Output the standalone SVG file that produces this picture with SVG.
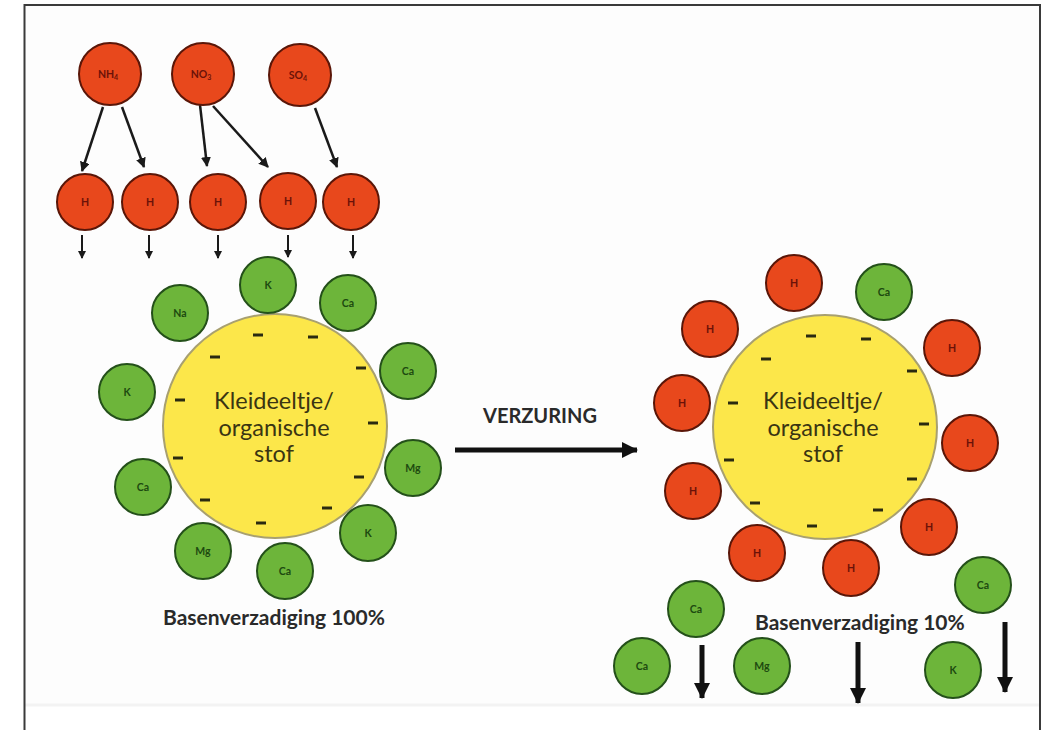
<svg xmlns="http://www.w3.org/2000/svg" width="1044" height="730" viewBox="0 0 1044 730">
<style>
.red{fill:#E8481C;stroke:#5a1608;stroke-width:2}
.grn{fill:#6DB53A;stroke:#24501a;stroke-width:2}
.yel{fill:#FCE74A;stroke:#a8a070;stroke-width:2}
.rt{font-family:Lato,"Liberation Sans",sans-serif;font-weight:bold;font-size:10.5px;fill:#6b1208;text-anchor:middle}
.gt{font-family:Lato,"Liberation Sans",sans-serif;font-weight:bold;font-size:10.5px;fill:#1d4a10;text-anchor:middle}
.big{font-family:Lato,"Liberation Sans",sans-serif;font-size:23.5px;fill:#3a3512;text-anchor:middle}
.lbl{font-family:Lato,"Liberation Sans",sans-serif;font-weight:bold;font-size:21px;fill:#2a2a2a}
.vz{font-family:Lato,"Liberation Sans",sans-serif;font-weight:bold;font-size:20px;fill:#2a2a2a}
.dash{stroke:#2a2a10;stroke-width:3}
.thin{stroke:#1a1a1a;stroke-width:2.5;fill:none}
.small{stroke:#1a1a1a;stroke-width:2;fill:none}
.thick{stroke:#111;stroke-width:5;fill:none}
</style>
<defs>
<marker id="ah" markerUnits="userSpaceOnUse" markerWidth="10" markerHeight="10" refX="9" refY="5" orient="auto"><path d="M0,0 L10,5 L0,10 z" fill="#1a1a1a"/></marker>
<marker id="ahs" markerUnits="userSpaceOnUse" markerWidth="8" markerHeight="8" refX="7" refY="4" orient="auto"><path d="M0,0 L8,4 L0,8 z" fill="#1a1a1a"/></marker>
<marker id="ahb" markerUnits="userSpaceOnUse" markerWidth="16" markerHeight="16" refX="15" refY="8" orient="auto"><path d="M0,0 L16,8 L0,16 z" fill="#111"/></marker>
</defs>
<rect x="0" y="0" width="1044" height="730" fill="#ffffff"/>
<rect x="25" y="6" width="1014" height="698" fill="#fdfdfd"/>
<line x1="25" y1="705" x2="1039" y2="705" stroke="#f3f3f3" stroke-width="3"/>
<path d="M24.5,730 V5 H1040 V730" fill="none" stroke="#3a3a3a" stroke-width="2"/>

<g id="connectors">
<line class="thin" x1="103" y1="107" x2="82" y2="171" marker-end="url(#ah)"/>
<line class="thin" x1="122" y1="107" x2="144" y2="167" marker-end="url(#ah)"/>
<line class="thin" x1="200" y1="105" x2="207" y2="166" marker-end="url(#ah)"/>
<line class="thin" x1="213" y1="106" x2="268" y2="167" marker-end="url(#ah)"/>
<line class="thin" x1="315" y1="108" x2="337" y2="167" marker-end="url(#ah)"/>
<line class="small" x1="82" y1="235" x2="82" y2="258" marker-end="url(#ahs)"/>
<line class="small" x1="149" y1="235" x2="149" y2="258" marker-end="url(#ahs)"/>
<line class="small" x1="218" y1="235" x2="218" y2="258" marker-end="url(#ahs)"/>
<line class="small" x1="288" y1="235" x2="288" y2="257" marker-end="url(#ahs)"/>
<line class="small" x1="353" y1="235" x2="353" y2="258" marker-end="url(#ahs)"/>
<line class="thick" x1="455" y1="450" x2="637" y2="450" marker-end="url(#ahb)"/>
<line class="thick" x1="702" y1="645" x2="702" y2="698" marker-end="url(#ahb)"/>
<line class="thick" x1="858" y1="642" x2="858" y2="703" marker-end="url(#ahb)"/>
<line class="thick" x1="1005" y1="622" x2="1005" y2="692" marker-end="url(#ahb)"/>
</g>

<g id="nh4"><circle class="red" cx="110" cy="74" r="31"/><text class="rt" x="108" y="78">NH<tspan font-size="7" dy="2">4</tspan></text></g>
<g id="no3"><circle class="red" cx="203" cy="74" r="31"/><text class="rt" x="201" y="78">NO<tspan font-size="7" dy="2">3</tspan></text></g>
<g id="so4"><circle class="red" cx="300" cy="75" r="31"/><text class="rt" x="298" y="79">SO<tspan font-size="7" dy="2">4</tspan></text></g>

<g id="h1"><circle class="red" cx="85" cy="202" r="28"/><text class="rt" x="85" y="206">H</text></g>
<g id="h2"><circle class="red" cx="150" cy="202" r="28"/><text class="rt" x="150" y="206">H</text></g>
<g id="h3"><circle class="red" cx="218" cy="202" r="28"/><text class="rt" x="218" y="206">H</text></g>
<g id="h4"><circle class="red" cx="288" cy="201" r="28"/><text class="rt" x="288" y="205">H</text></g>
<g id="h5"><circle class="red" cx="351" cy="202" r="28"/><text class="rt" x="351" y="206">H</text></g>

<g id="particle-left">
<circle class="yel" cx="275" cy="426" r="112"/>
<text class="big" x="274" y="409">Kleideeltje/</text>
<text class="big" x="274" y="436">organische</text>
<text class="big" x="274" y="462">stof</text>
<g class="dash">
<line x1="253" y1="335" x2="263" y2="335"/><line x1="308" y1="337" x2="318" y2="337"/>
<line x1="210" y1="357" x2="220" y2="357"/><line x1="356" y1="368" x2="366" y2="368"/>
<line x1="175" y1="400" x2="185" y2="400"/><line x1="368" y1="423" x2="378" y2="423"/>
<line x1="173" y1="458" x2="183" y2="458"/><line x1="354" y1="477" x2="364" y2="477"/>
<line x1="200" y1="500" x2="210" y2="500"/><line x1="322" y1="508" x2="332" y2="508"/>
<line x1="256" y1="523" x2="266" y2="523"/>
</g>
</g>

<g id="l-na"><circle class="grn" cx="180" cy="313" r="28"/><text class="gt" x="180" y="317">Na</text></g>
<g id="l-k1"><circle class="grn" cx="268" cy="285" r="28"/><text class="gt" x="268" y="289">K</text></g>
<g id="l-ca1"><circle class="grn" cx="348" cy="303" r="28"/><text class="gt" x="348" y="307">Ca</text></g>
<g id="l-ca2"><circle class="grn" cx="408" cy="371" r="28"/><text class="gt" x="408" y="375">Ca</text></g>
<g id="l-k2"><circle class="grn" cx="127" cy="392" r="28"/><text class="gt" x="127" y="396">K</text></g>
<g id="l-mg1"><circle class="grn" cx="413" cy="468" r="28"/><text class="gt" x="413" y="472">Mg</text></g>
<g id="l-ca3"><circle class="grn" cx="143" cy="487" r="28"/><text class="gt" x="143" y="491">Ca</text></g>
<g id="l-k3"><circle class="grn" cx="368" cy="533" r="28"/><text class="gt" x="368" y="537">K</text></g>
<g id="l-mg2"><circle class="grn" cx="203" cy="551" r="28"/><text class="gt" x="203" y="555">Mg</text></g>
<g id="l-ca4"><circle class="grn" cx="285" cy="571" r="28"/><text class="gt" x="285" y="575">Ca</text></g>

<g id="label-left"><text class="lbl" x="163" y="625">Basenverzadiging 100%</text></g>
<g id="label-verzuring"><text class="vz" x="483" y="423">VERZURING</text></g>

<g id="particle-right">
<circle class="yel" cx="825" cy="427" r="112"/>
<text class="big" x="823" y="409">Kleideeltje/</text>
<text class="big" x="823" y="436">organische</text>
<text class="big" x="823" y="462">stof</text>
<g class="dash">
<line x1="806" y1="336" x2="816" y2="336"/><line x1="861" y1="339" x2="871" y2="339"/>
<line x1="761" y1="359" x2="771" y2="359"/><line x1="907" y1="371" x2="917" y2="371"/>
<line x1="728" y1="403" x2="738" y2="403"/><line x1="919" y1="424" x2="929" y2="424"/>
<line x1="724" y1="460" x2="734" y2="460"/><line x1="907" y1="479" x2="917" y2="479"/>
<line x1="750" y1="503" x2="760" y2="503"/><line x1="873" y1="510" x2="883" y2="510"/>
<line x1="807" y1="526" x2="817" y2="526"/>
</g>
</g>

<g id="r-h1"><circle class="red" cx="794" cy="283" r="28"/><text class="rt" x="794" y="287">H</text></g>
<g id="r-ca1"><circle class="grn" cx="884" cy="292" r="28"/><text class="gt" x="884" y="296">Ca</text></g>
<g id="r-h2"><circle class="red" cx="710" cy="329" r="28"/><text class="rt" x="710" y="333">H</text></g>
<g id="r-h3"><circle class="red" cx="952" cy="348" r="28"/><text class="rt" x="952" y="352">H</text></g>
<g id="r-h4"><circle class="red" cx="682" cy="403" r="28"/><text class="rt" x="682" y="407">H</text></g>
<g id="r-h5"><circle class="red" cx="970" cy="443" r="28"/><text class="rt" x="970" y="447">H</text></g>
<g id="r-h6"><circle class="red" cx="693" cy="491" r="28"/><text class="rt" x="693" y="495">H</text></g>
<g id="r-h7"><circle class="red" cx="929" cy="527" r="28"/><text class="rt" x="929" y="531">H</text></g>
<g id="r-h8"><circle class="red" cx="757" cy="553" r="28"/><text class="rt" x="757" y="557">H</text></g>
<g id="r-h9"><circle class="red" cx="851" cy="568" r="28"/><text class="rt" x="851" y="572">H</text></g>
<g id="r-ca2"><circle class="grn" cx="983" cy="585" r="28"/><text class="gt" x="983" y="589">Ca</text></g>
<g id="r-ca3"><circle class="grn" cx="696" cy="609" r="28"/><text class="gt" x="696" y="613">Ca</text></g>
<g id="r-ca4"><circle class="grn" cx="642" cy="666" r="28"/><text class="gt" x="642" y="670">Ca</text></g>
<g id="r-mg"><circle class="grn" cx="762" cy="666" r="28"/><text class="gt" x="762" y="670">Mg</text></g>
<g id="r-k"><circle class="grn" cx="953" cy="670" r="28"/><text class="gt" x="953" y="674">K</text></g>

<g id="label-right"><text class="lbl" x="755" y="630">Basenverzadiging 10%</text></g>
</svg>
